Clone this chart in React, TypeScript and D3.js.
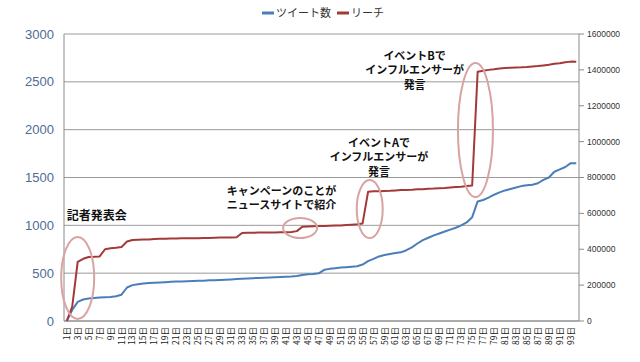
import React from "react";
import * as d3 from "d3";

const days: string[] = Array.from({ length: 94 }, (_, i) => `${i + 1}日`);

const tweets: number[] = [
  0, 115, 200, 225, 235, 240, 245, 248, 252, 258,
  275, 350, 375, 385, 392, 397, 400, 403, 406, 409,
  412, 414, 416, 418, 420, 422, 425, 427, 429, 432,
  435, 438, 442, 445, 448, 450, 453, 455, 458, 460,
  462, 465, 470, 480, 488, 492, 498, 535, 545, 552,
  558, 562, 567, 572, 590, 625, 650, 675, 690, 700,
  710, 718, 740, 770, 810, 845, 870, 895, 915, 935,
  955, 975, 1000, 1030, 1085, 1250, 1265, 1290, 1320, 1345,
  1365, 1380, 1395, 1410, 1420, 1425, 1440, 1475, 1500, 1560,
  1585, 1610, 1650, 1650,
];

const reach: number[] = [
  0, 80000, 330000, 347000, 357000, 358000, 360000, 400000, 405000, 408000,
  413000, 443000, 452000, 453000, 454000, 455000, 457000, 458000, 459000, 460000,
  460000, 461000, 461000, 462000, 462000, 463000, 463000, 464000, 465000, 465000,
  466000, 467000, 491000, 492000, 492000, 493000, 493000, 494000, 494000, 495000,
  495000, 496000, 501000, 525000, 527000, 528000, 529000, 530000, 531000, 532000,
  533000, 535000, 537000, 539000, 544000, 720000, 723000, 724000, 725000, 726000,
  728000, 730000, 731000, 732000, 734000, 735000, 737000, 738000, 740000, 741000,
  744000, 747000, 749000, 752000, 755000, 1389000, 1395000, 1400000, 1403000, 1408000,
  1411000, 1412000, 1413000, 1414000, 1416000, 1419000, 1421000, 1425000, 1429000, 1434000,
  1437000, 1443000, 1446000, 1445000,
];

const leftTicks: number[] = [0, 500, 1000, 1500, 2000, 2500, 3000];
const rightTicks: number[] = [0, 200000, 400000, 600000, 800000, 1000000, 1200000, 1400000, 1600000];

const seriesNames: string[] = ["ツイート数", "リーチ"];

// annotation ellipses: day index (1-based, fractional), left-axis value of centre
const ellipseDays: number[] = [3, 43.6, 56.3, 75.6];
const ellipseVals: number[] = [450, 972, 1170, 1996];
const ellipseRx: number[] = [16.5, 17, 13, 17.5];
const ellipseRy: number[] = [41, 10, 29, 67];

const noteLines: string[][] = [
  ["記者発表会"],
  ["キャンペーンのことが", "ニュースサイトで紹介"],
  ["イベントAで", "インフルエンサーが", "発言"],
  ["イベントBで", "インフルエンサーが", "発言"],
];
const noteDays: number[] = [1, 40.2, 58, 64.5];
const noteVals: number[] = [1060, 1320, 1820, 2730];
const noteAnchor: string[] = ["start", "middle", "middle", "middle"];

const W = 640, H = 362;
const L = 64, R = 579, T = 34, B = 321;
const BLUE = "#4A7EBB";
const RED = "#A33A37";
const JP = "'Noto Sans CJK JP', 'Noto Sans', sans-serif";

export default function App() {
  const x = d3.scaleBand<string>().domain(days).range([L, R]).padding(0);
  const yL = d3.scaleLinear().domain([0, 3000]).range([B, T]);
  const yR = d3.scaleLinear().domain([0, 1600000]).range([B, T]);
  const cx = (i: number) => (x(days[i]) as number) + x.bandwidth() / 2;
  const dayX = (d: number) => L + (d - 0.5) * x.bandwidth();

  const lineL = d3.line<number>().x((_, i) => cx(i)).y((v) => yL(v));
  const lineR = d3.line<number>().x((_, i) => cx(i)).y((v) => yR(v));

  return (
    <svg width={W} height={H} style={{ position: "absolute", left: 0, top: 0, background: "#fff" }}>
      {leftTicks.map((t) => (
        <line key={"g" + t} x1={L} x2={R} y1={yL(t)} y2={yL(t)} stroke="#9a9a9a" strokeWidth={1} />
      ))}
      <line x1={L} x2={L} y1={T} y2={B} stroke="#8a8a8a" />
      <line x1={R} x2={R} y1={T} y2={B} stroke="#8a8a8a" />
      <line x1={L} x2={R} y1={B} y2={B} stroke="#8a8a8a" />
      {leftTicks.map((t) => (
        <text key={"l" + t} x={54} y={yL(t)} dy="0.35em" textAnchor="end"
          fontFamily="'Liberation Sans', Arial, sans-serif" fontSize={13} fill="#4F6B93">{t}</text>
      ))}
      {rightTicks.map((t) => (
        <g key={"r" + t}>
          <line x1={R} x2={R + 5} y1={yR(t)} y2={yR(t)} stroke="#8a8a8a" />
          <text x={R + 8} y={yR(t)} dy="0.35em" fontFamily="'Liberation Sans', Arial, sans-serif"
            fontSize={8.5} fill="#333">{t}</text>
        </g>
      ))}
      {days.map((d, i) =>
        i % 2 === 0 ? (
          <text key={d} transform={`translate(${cx(i) + 3},${B + 6}) rotate(-90)`} textAnchor="end"
            fontFamily={JP} fontSize={8.5} fill="#222">{d}</text>
        ) : null
      )}
      <path d={lineL(tweets) || ""} fill="none" stroke={BLUE} strokeWidth={2} strokeLinejoin="round" />
      <path d={lineR(reach) || ""} fill="none" stroke={RED} strokeWidth={2} strokeLinejoin="round" />
      {ellipseDays.map((d, i) => (
        <ellipse key={"e" + i} cx={dayX(d)} cy={yL(ellipseVals[i])} rx={ellipseRx[i]} ry={ellipseRy[i]}
          fill="none" stroke="#D9A3A1" strokeWidth={2} />
      ))}
      {noteLines.map((lines, i) => (
        <text key={"n" + i} fontFamily={JP} fontWeight="bold" fontSize={i === 0 ? 12 : 11} fill="#111" textAnchor={noteAnchor[i]}>
          {lines.map((s, j) => (
            <tspan key={j} x={dayX(noteDays[i])} y={yL(noteVals[i]) + j * 14.5}>{s}</tspan>
          ))}
        </text>
      ))}
      <line x1={262} x2={274} y1={13} y2={13} stroke={BLUE} strokeWidth={3} />
      <text x={276} y={13} dy="0.35em" fontFamily={JP} fontSize={11} fill="#333">{seriesNames[0]}</text>
      <line x1={337} x2={349} y1={13} y2={13} stroke={RED} strokeWidth={3} />
      <text x={351} y={13} dy="0.35em" fontFamily={JP} fontSize={11} fill="#333">{seriesNames[1]}</text>
    </svg>
  );
}
